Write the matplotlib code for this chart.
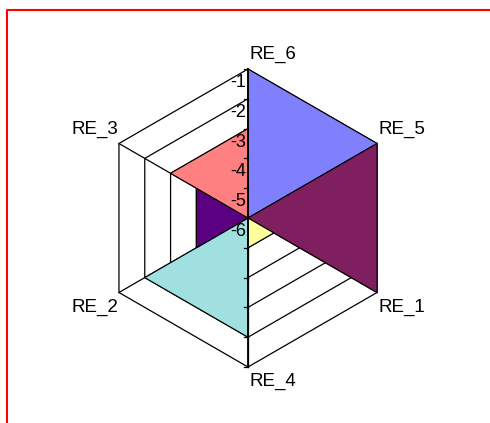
import numpy as np
import matplotlib
matplotlib.use("Agg")
import matplotlib.pyplot as plt
from matplotlib.lines import Line2D

plt.rcParams['font.family'] = ['Liberation Sans', 'DejaVu Sans']

# categories, clockwise from the top
categories = ["RE_6", "RE_5", "RE_1", "RE_4", "RE_2", "RE_3"]
tick_labels = ["-1", "-2", "-3", "-4", "-5", "-6"]
r_min, r_max = -6, -1

# one series per wedge (value -6 = centre)
series_1 = [-1, -1, -6, -6, -6, -6]
series_2 = [-6, -1, -1, -6, -6, -6]
series_3 = [-6, -6, -5, -5, -6, -6]
series_4 = [-6, -6, -6, -2, -2, -6]
series_5 = [-6, -6, -6, -6, -4, -4]
series_6 = [-3, -6, -6, -6, -6, -3]
series = [series_1, series_2, series_3, series_4, series_5, series_6]
colors = ["#8080ff", "#7f1f5f", "#ffff99", "#a0e0e0", "#5c0082", "#ff8080"]

n = len(categories)
angles = np.pi / 2 - np.arange(n) * 2 * np.pi / n


def to_xy(vals):
    r = np.asarray(vals, float) - r_min
    return r * np.cos(angles), r * np.sin(angles)


W, H = 490, 423
fig = plt.figure(figsize=(W / 100, H / 100), dpi=100)
ax = fig.add_axes([0, 0, 1, 1])
ax.set_axis_off()
px = 29.8  # pixels per unit
cx, cy = 248, 205
ax.set_xlim(-cx / px, (W - cx) / px)
ax.set_ylim(-cy / px, (H - cy) / px)

# hexagonal grid (hidden under the filled series)
for level in range(r_min + 1, r_max + 1):
    x, y = to_xy([level] * n)
    ax.plot(np.append(x, x[0]), np.append(y, y[0]), color="black", lw=0.9, zorder=1)
xo, yo = to_xy([r_max] * n)
for i in range(n):
    ax.plot([0, xo[i]], [0, yo[i]], color="black", lw=0.9, zorder=1)

# filled series
for vals, c in zip(series, colors):
    x, y = to_xy(vals)
    ax.fill(x, y, facecolor=c, edgecolor="black", lw=0.8, zorder=2)

# value axis along the top/bottom spokes
ax.plot([0, 0], [yo[3], yo[0]], color="black", lw=1.3, zorder=3)
for level in range(r_min + 1, r_max + 1):
    r = level - r_min
    for s in (1, -1):
        ax.plot([-0.13, 0], [s * r, s * r], color="black", lw=0.9, zorder=3)

# tick labels along the top spoke
for lab in tick_labels:
    r = float(lab) - r_min
    ax.text(-0.06, r - 0.45, lab, ha="right", va="center", fontsize=13, zorder=4)

# category labels
for i, cat in enumerate(categories):
    x, y = xo[i], yo[i]
    ha = "left" if x >= -0.01 else "right"
    va = "bottom" if y > 0.01 else "top"
    dx = 0.05 if ha == "left" else -0.03
    dy = 0.2 if va == "bottom" else -0.2
    ax.text(x + dx, y + dy, cat, ha=ha, va=va, fontsize=13.5, zorder=4)

# red frame on the left and top
fig.add_artist(Line2D([7 / W, 7 / W, 1], [0, 1 - 10 / H, 1 - 10 / H],
                      color="#ff0000", lw=1.5, transform=fig.transFigure))

fig.savefig("out.png", dpi=100)
